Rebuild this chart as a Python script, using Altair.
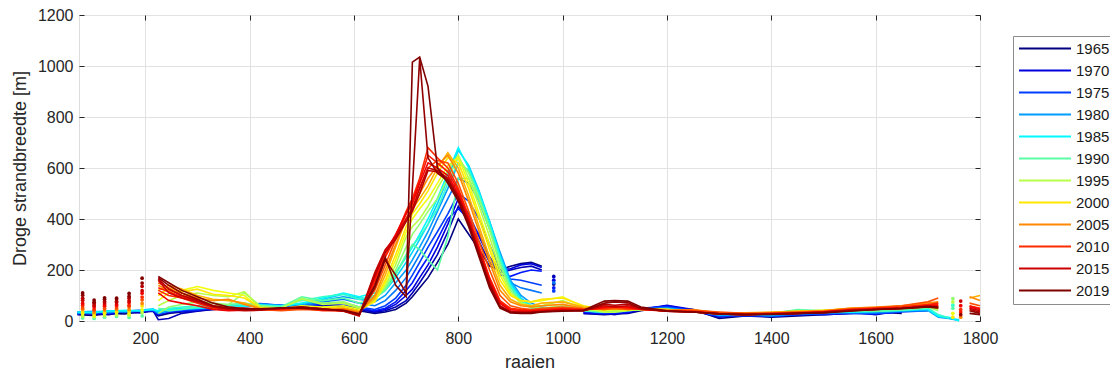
import altair as alt
import pandas as pd

N = None

# raai-nummers (x-posities van de metingen)
raai = [70, 100, 130, 160, 190, 215,
        225, 245, 270, 300, 330, 360, 390,
        420, 460, 500, 540, 580, 610,
        640, 660, 680, 700, 712, 726, 742, 760, 780, 800,
        820, 840, 860, 880, 900, 920, 940, 960,
        1000, 1040, 1080, 1100, 1125, 1150,
        1200, 1250, 1300, 1350, 1400, 1450, 1500, 1550, 1600, 1650, 1700, 1720,
        1740, 1760, 1780, 1800]

w1965 = [25,22,30,28,35,38, 20,30,35,40,45,50,55, 60,58,55,60,55,40, 30,35,45,70,95,130,170,230,300,400, 340,280,215,200,215,225,230,215, N,30,25,28,30,40, 55,45,10,20,15,20,25,30,35,30,N,N, N,N,N,N]
w1968 = [30,28,25,35,32,40, 5,10,30,38,45,50,58, 62,60,55,62,58,45, 35,40,55,80,110,150,200,260,350,450, 390,310,230,190,200,210,215,200, N,35,30,25,35,45, 60,40,15,25,20,25,30,35,25,40,N,N, N,N,N,N]
w1970 = [35,30,32,40,38,45, 30,35,40,45,48,55,60, 65,62,58,65,60,48, 38,45,65,100,125,170,220,290,380,480, 420,330,250,200,205,220,225,210, N,30,28,30,32,45, 62,45,20,25,20,28,25,30,30,35,N,N, N,N,N,N]
w1973 = [28,35,30,38,42,40, 25,35,38,42,50,52,60, 66,60,55,68,62,50, 40,50,75,120,150,200,250,320,400,440, 400,340,250,180,175,190,200,195, N,35,30,32,35,50, 58,42,18,22,18,25,28,32,28,38,N,N, N,N,N,N]
w1975 = [30,32,35,36,40,42, 30,40,42,45,50,55,62, 68,62,58,70,70,55, 45,60,90,140,180,230,290,350,420,500, 470,400,300,200,165,160,150,140, N,38,32,35,38,50, 55,40,20,22,20,25,30,30,30,35,40,N, N,N,N,N]
w1978 = [32,30,38,34,40,45, 35,40,45,48,52,55,60, 65,60,60,75,85,70, 60,80,120,170,210,260,320,400,480,560, 540,470,360,250,150,130,120,110, N,38,35,35,40,48, 52,40,22,25,20,28,30,32,32,38,40,N, N,N,N,N]
w1980 = [35,38,33,40,38,45, 30,38,45,50,52,58,62, 66,62,65,80,95,85, 75,100,150,200,240,290,350,430,520,620, 590,500,390,270,160,100,70,55, 45,40,35,38,40,45, 50,38,25,25,22,30,32,35,35,40,42,15, 10,2,N,N]
w1983 = [33,35,40,38,42,48, 35,45,50,52,55,58,60, 64,60,68,85,105,90, 90,120,170,230,270,320,380,460,560,670, 610,510,390,260,150,90,60,50, 50,42,38,40,45,42, 48,38,25,28,25,35,35,35,38,40,45,18, 12,5,N,N]
w1985 = [35,33,38,42,40,45, 40,45,48,50,55,55,58, 62,58,70,90,110,95, 110,130,190,250,290,340,400,480,580,680, 600,500,385,250,140,85,60,48, 48,40,35,40,48,45, 45,40,28,28,30,40,35,35,38,42,48,20, 15,0,N,N]
w1988 = [N,N,N,N,N,N, 45,50,55,60,58,62,65, 62,58,80,95,105,85, 100,125,185,255,295,330,380,440,540,620, 590,495,375,245,135,80,55,45, 47,42,36,42,46,44, 46,39,29,29,31,42,38,38,37,45,52,25, 12,N,N,N]
w1990 = [N,N,N,N,N,N, 50,40,45,55,60,65,70, 60,55,95,80,90,70, 90,120,180,260,300,280,240,200,330,560, 560,470,360,230,130,75,50,45, 45,40,35,38,45,42, 45,38,30,30,28,45,40,40,38,42,50,N, N,N,N,N]
w1993 = [N,N,N,N,N,N, 30,55,65,75,70,65,110, 60,50,90,70,75,55, 85,130,200,290,340,380,430,480,560,640, 580,480,360,220,120,70,55,50, 60,45,40,40,42,45, 40,35,28,25,30,40,40,45,45,50,55,40, N,N,N,N]
w1995 = [N,N,N,N,N,N, 60,80,100,110,100,95,115, 55,50,85,65,70,50, 80,140,220,330,370,400,450,520,590,650, 560,450,330,200,110,70,60,60, 80,50,35,35,40,45, 40,35,30,28,32,38,42,48,50,55,60,45, N,N,N,N]
w1998 = [N,N,N,N,N,N, 80,110,120,135,120,110,100, 50,48,60,55,60,45, 75,150,240,350,400,440,480,540,610,640, 540,420,300,180,105,80,75,80, 95,55,40,45,42,48, 45,38,30,28,30,35,40,45,48,55,60,50, N,N,N,N]
w2000 = [N,N,N,N,N,N, 100,130,115,125,105,100,90, 52,45,55,50,55,40, 80,160,260,370,420,460,510,580,640,620, 520,400,280,160,100,80,75,85, 90,60,45,50,45,50, 45,40,32,30,32,38,42,48,50,55,62,55, N,N,N,N]
w2003 = [N,N,N,N,N,N, 120,140,125,100,85,80,70, 50,45,50,48,50,38, 90,180,290,400,440,480,530,600,660,600, 490,370,250,140,85,65,60,70, 75,55,50,45,50,48, 45,40,30,32,35,38,40,50,52,55,65,60, N,N,90,100]
w2005 = [N,N,N,N,N,N, 140,120,110,90,80,85,65, 48,42,48,45,48,35, 100,200,300,400,450,500,560,610,650,580, 470,350,230,120,75,60,55,60, 65,50,45,48,45,50, 42,45,32,30,32,35,40,50,55,60,70,75, N,N,95,80]
w2008 = [N,N,N,N,N,N, 150,130,100,85,60,55,50, 45,40,45,42,45,30, 120,220,320,420,470,520,600,630,620,540, 430,310,200,100,60,50,45,50, 55,48,45,50,45,48, 40,42,35,30,30,35,38,48,52,60,75,90, N,N,70,60]
w2010 = [N,N,N,N,N,N, 120,100,90,70,50,45,45, 45,45,50,40,40,25, 150,250,330,430,480,560,680,640,600,520, 410,290,170,80,50,45,42,45, 50,45,50,55,50,45, 40,38,30,28,30,32,35,45,50,55,65,70, N,N,60,50]
w2011 = [N,N,N,N,N,N, 130,115,95,80,58,48,46, 44,47,53,43,39,24, 160,255,335,425,470,550,650,620,585,510, 405,285,165,75,45,42,40,43, 48,44,52,56,52,46, 39,37,29,27,29,31,36,44,49,53,63,66, N,N,58,48]
w2013 = [N,N,N,N,N,N, 110,80,70,60,45,40,42, 45,48,52,45,40,22, 170,270,340,420,460,540,620,600,570,500, 400,280,160,70,40,38,38,40, 45,42,55,58,55,45, 38,36,28,25,28,30,35,42,48,50,60,60, N,N,55,45]
w2015 = [N,N,N,N,N,N, 160,110,90,75,55,45,40, 42,50,55,48,38,20, 190,280,330,400,440,520,600,590,560,490, 390,270,150,60,35,35,35,38, 42,40,60,55,60,48, 38,35,28,25,28,30,35,42,45,50,55,55, N,N,50,40]
w2016 = [N,N,N,N,N,N, 165,125,100,80,58,48,43, 44,50,54,47,40,22, 180,270,320,390,430,500,590,585,555,485, 385,265,145,58,35,33,34,37, 41,40,65,62,66,49, 38,35,28,25,27,30,34,41,45,49,56,53, N,N,45,35]
w2018 = [N,N,N,N,N,N, 170,140,110,85,60,50,45, 45,50,55,48,40,25, 130,240,180,110,520,1030,640,580,550,480, 380,260,140,55,35,32,33,36, 40,40,70,75,72,50, 38,35,28,25,27,30,33,40,45,48,55,50, N,N,40,30]
w2019 = [N,N,N,N,N,N, 175,150,120,95,70,55,48, 48,52,50,45,42,28, 140,250,140,95,1015,1035,920,600,540,470, 370,250,130,50,32,30,30,35, 38,42,78,80,78,55, 40,35,28,25,26,30,32,38,45,50,58,55, N,N,30,25]

jaren = [1965, 1968, 1970, 1973, 1975, 1978, 1980, 1983, 1985, 1988, 1990, 1993,
         1995, 1998, 2000, 2003, 2005, 2008, 2010, 2011, 2013, 2015, 2016, 2018, 2019]
reeksen = [w1965, w1968, w1970, w1973, w1975, w1978, w1980, w1983, w1985, w1988, w1990, w1993,
           w1995, w1998, w2000, w2003, w2005, w2008, w2010, w2011, w2013, w2015, w2016, w2018, w2019]

# losse meetpunten (geisoleerde waarden)
stapel_raai = [80, 102, 122, 145, 169, 194]
stapel_jaren = [1990, 1995, 1998, 2000, 2005, 2008, 2010, 2013, 2015, 2016, 2018, 2019]
stapel_waarden = [[12, 19, 29, 35, 46, 51, 61, 69, 81, 89, 101, 110],
                  [10, 17, 21, 29, 34, 43, 47, 56, 61, 69, 74, 82],
                  [15, 21, 29, 34, 43, 49, 58, 63, 71, 76, 85, 91],
                  [18, 24, 33, 37, 46, 51, 59, 64, 73, 77, 86, 90],
                  [14, 23, 29, 39, 45, 56, 62, 73, 79, 89, 97, 108],
                  [20, 33, 44, 59, 69, 83, 94, 109, 119, 136, 149, 168]]
los_raai = [983, 983, 983, 983, 983, 983, 1748, 1748, 1748, 1748, 1748, 1748, 1763, 1763, 1763, 1763, 1763, 1763]
los_jaar = [1965, 1968, 1970, 1973, 1975, 1978, 1988, 1990, 1993, 1995, 1998, 2000, 2005, 2010, 2011, 2013, 2015, 2018]
los_waarde = [145, 175, 160, 130, 118, 150, 62, 50, 88, 75, 30, 15, 15, 45, 35, 60, 78, 25]

legenda_jaren = [1965, 1970, 1975, 1980, 1985, 1990, 1995, 2000, 2005, 2010, 2015, 2019]
x_ticks = [200, 400, 600, 800, 1000, 1200, 1400, 1600, 1800]
y_ticks = [0, 200, 400, 600, 800, 1000, 1200]

rows = []
for j, r in zip(jaren, reeksen):
    for x, v in zip(raai, r):
        rows.append({"raai": x, "jaar": j, "breedte": v})
df = pd.DataFrame(rows)

prow = []
for x, vals in zip(stapel_raai, stapel_waarden):
    for j, v in zip(stapel_jaren, vals):
        prow.append({"raai": x, "jaar": j, "breedte": v})
for x, j, v in zip(los_raai, los_jaar, los_waarde):
    prow.append({"raai": x, "jaar": j, "breedte": v})
pdf = pd.DataFrame(prow)

FONT = "Liberation Sans"
TXT = "#262626"
W, H = 901, 306

xs = alt.Scale(domain=[73, 1800], nice=False, zero=False)
ys = alt.Scale(domain=[0, 1200], nice=False, zero=False)

jet = alt.Scale(domain=[1965, 1971.75, 1985.25, 1998.75, 2012.25, 2019],
                range=["#000080", "#0000ff", "#00ffff", "#ffff00", "#ff0000", "#800000"],
                interpolate="rgb")

kleur = alt.Color("jaar:Q", scale=jet,
                  legend=alt.Legend(type="symbol", values=legenda_jaren, format="d", title=None,
                                    orient="none", legendX=934, legendY=21,
                                    symbolType="M-1,0H7", symbolSize=169, symbolStrokeWidth=2,
                                    labelOffset=43, padding=5, strokeColor="#8c8c8c",
                                    fillColor="white", labelFontSize=15, labelFont=FONT,
                                    labelColor="#1a1a1a", rowPadding=6))

x_main = alt.X("raai:Q", scale=xs, axis=alt.Axis(values=x_ticks, title="raaien", ticks=False, domain=False,
               grid=True, gridColor="#e2e2e2", labelFontSize=16, titleFontSize=18, labelFont=FONT,
               titleFont=FONT, labelColor=TXT, titleColor=TXT, titleFontWeight="normal",
               labelPadding=9, titlePadding=7, labelFlush=False, format="d"))
y_main = alt.Y("breedte:Q", scale=ys, axis=alt.Axis(values=y_ticks, title="Droge strandbreedte [m]", ticks=False,
               domain=False, grid=True, gridColor="#e2e2e2", labelFontSize=16, titleFontSize=18,
               labelFont=FONT, titleFont=FONT, labelColor=TXT, titleColor=TXT, titleFontWeight="normal",
               labelPadding=6, titlePadding=8, labelFlush=False, format="d"))

lijnen = alt.Chart(df).mark_line(strokeWidth=1.6, invalid="break-paths-show-domains").encode(
    x=x_main, y=y_main, color=kleur, detail="jaar:N", order=alt.Order("raai:Q"))

punten = alt.Chart(pdf).mark_circle(size=14, opacity=1).encode(
    x=alt.X("raai:Q", scale=xs), y=alt.Y("breedte:Q", scale=ys), color=alt.Color("jaar:Q", scale=jet))

hoofd = alt.layer(lijnen, punten)

tick_df = pd.DataFrame({"raai": [800], "breedte": [600]})

def tick_laag(xo, yo):
    return alt.Chart(tick_df).mark_point(opacity=0).encode(
        x=alt.X("raai:Q", scale=xs, axis=alt.Axis(orient=xo, offset=-H, values=x_ticks, labels=False,
                ticks=True, tickSize=5, tickColor=TXT, domain=False, grid=False, title=None)),
        y=alt.Y("breedte:Q", scale=ys, axis=alt.Axis(orient=yo, offset=-W, values=y_ticks, labels=False,
                ticks=True, tickSize=5, tickColor=TXT, domain=False, grid=False, title=None)))

chart = alt.layer(hoofd, tick_laag("bottom", "left"), tick_laag("top", "right")).resolve_scale(
    x="independent", y="independent").properties(
    width=W, height=H,
    autosize=alt.AutoSizeParams(type="none"),
    padding={"left": 71, "top": 7, "right": 130, "bottom": 55},
).configure_view(stroke="#4d4d4d", strokeWidth=1).configure(background="white")

chart.save("out.html", embed_options={"renderer": "svg", "actions": False})
